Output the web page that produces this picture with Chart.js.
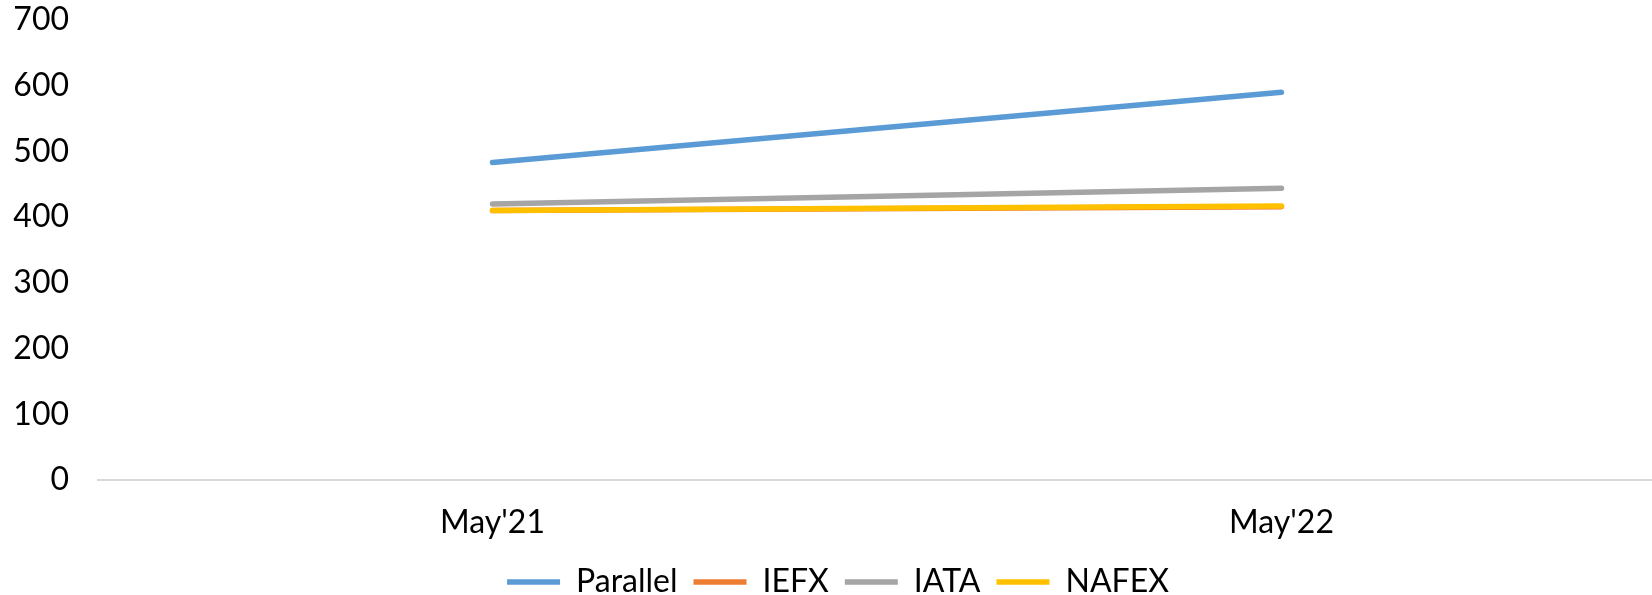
<!DOCTYPE html>
<html>
<head>
<meta charset="utf-8">
<script src="https://cdn.jsdelivr.net/npm/chart.js@4/dist/chart.umd.min.js"></script>
<style>
  html, body { margin: 0; padding: 0; background: #fff; overflow: hidden; }
  #wrap { width: 1676px; height: 595px; position: relative; }
</style>
</head>
<body>
<div id="wrap"><canvas id="chart"></canvas></div>
<script>
const categories = ["May'21", "May'22"]
const parallel = [483, 590]
const iefx = [410, 416]
const iata = [420, 444]
const nafex = [410, 417]
const yTicks = [0, 100, 200, 300, 400, 500, 600, 700]

const font = "Lato, 'DejaVu Sans', sans-serif"

// order: lower value is drawn on top (NAFEX covers IEFX like in the original)
function line(label, data, color, order) {
  return {
    label: label,
    data: data,
    order: order,
    borderColor: color,
    backgroundColor: color,
    borderWidth: 5.5,
    borderCapStyle: "round",
    pointRadius: 0,
    pointStyle: "line",
    tension: 0,
    fill: false
  }
}

new Chart(document.getElementById("chart"), {
  type: "line",
  data: {
    labels: categories,
    datasets: [
      line("Parallel", parallel, "#5B9BD5", 3),
      line("IEFX", iefx, "#ED7D31", 1),
      line("IATA", iata, "#A5A5A5", 2),
      line("NAFEX", nafex, "#FFC000", 0)
    ]
  },
  options: {
    responsive: true,
    maintainAspectRatio: false,
    animation: false,
    layout: { padding: { top: 20, left: 0, right: 0, bottom: -13 } },
    plugins: {
      tooltip: { enabled: false },
      legend: {
        position: "bottom",
        labels: {
          usePointStyle: true,
          pointStyleWidth: 53,
          boxHeight: 5,
          padding: 16,
          color: "#000",
          font: { family: font, size: 32 },
          sort: (a, b) => a.datasetIndex - b.datasetIndex
        }
      }
    },
    scales: {
      x: {
        offset: true,
        grid: { display: false, drawTicks: false },
        border: { display: true, color: "#D9D9D9", width: 2 },
        afterFit: scale => { scale.height = 70 },
        ticks: { color: "#000", padding: 23, font: { family: font, size: 32 } }
      },
      y: {
        min: 0,
        max: 700,
        afterBuildTicks: scale => { scale.ticks = yTicks.map(v => ({ value: v })) },
        afterFit: scale => {
          scale.width = 98
          scale.paddingTop = 0
          scale.paddingBottom = 0
        },
        grid: { display: false, drawTicks: false },
        border: { display: false },
        ticks: { color: "#000", padding: 29, font: { family: font, size: 32 } }
      }
    }
  }
})
</script>
</body>
</html>
